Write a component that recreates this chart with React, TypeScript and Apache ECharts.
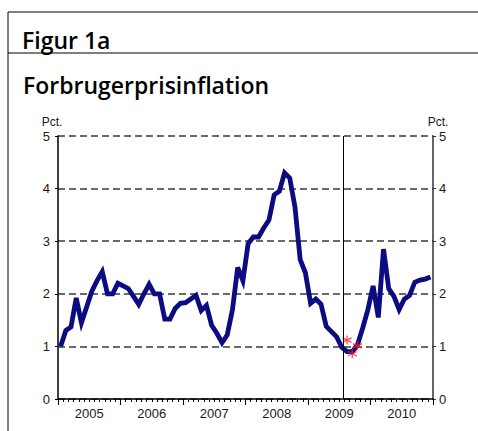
import React, { useEffect, useRef } from "react";
import * as echarts from "echarts";

// Monthly consumer price inflation (Pct.), Jan 2005 – Dec 2010
const years = ["2005", "2006", "2007", "2008", "2009", "2010"];
const cpi2005 = [1.0, 1.3, 1.37, 1.92, 1.45, 1.75, 2.05, 2.25, 2.42, 2.0, 2.0, 2.2];
const cpi2006 = [2.15, 2.1, 1.95, 1.8, 2.0, 2.18, 2.0, 2.0, 1.52, 1.52, 1.72, 1.82];
const cpi2007 = [1.83, 1.9, 1.97, 1.68, 1.78, 1.4, 1.25, 1.07, 1.22, 1.7, 2.5, 2.25];
const cpi2008 = [2.95, 3.08, 3.08, 3.25, 3.4, 3.88, 3.95, 4.3, 4.2, 3.65, 2.65, 2.4];
const cpi2009 = [1.82, 1.9, 1.8, 1.38, 1.28, 1.18, 0.98, 0.9, 0.9, 1.03, 1.35, 1.7];
const cpi2010 = [2.15, 1.55, 2.85, 2.1, 1.95, 1.7, 1.9, 1.97, 2.22, 2.26, 2.28, 2.32];
const cpiValues = [...cpi2005, ...cpi2006, ...cpi2007, ...cpi2008, ...cpi2009, ...cpi2010];

// Red star points (month index from Jan 2005 = 0)
const starMonths = [55, 56, 57];
const starValues = [1.12, 0.86, 1.01];

// Vertical reference line (month position)
const refLineMonth = 54.8;

const yTicks = [0, 1, 2, 3, 4, 5];

const STAR_PATH =
  "path://M0,-10L0,10M-8.66,-5L8.66,5M-8.66,5L8.66,-5";

export default function App() {
  const ref = useRef<HTMLDivElement>(null);
  useEffect(() => {
    if (!ref.current) return;
    const chart = echarts.init(ref.current, null, { renderer: "svg" });
    const lineData = cpiValues.map((v, i) => [i + 0.5, v]);
    const starData = starMonths.map((m, i) => [m + 0.5, starValues[i]]);
    const labelFont = "'Liberation Sans', Arial, sans-serif";
    const titleFont = "'Open Sans', 'Noto Sans', sans-serif";
    chart.setOption({
      animation: false,
      backgroundColor: "#ffffff",
      grid: { left: 58, right: 45, top: 136, bottom: 32, containLabel: false },
      xAxis: [
        {
          type: "value",
          min: 0,
          max: years.length * 12,
          interval: 12,
          position: "bottom",
          axisLine: { show: true, lineStyle: { color: "#000", width: 1.5 } },
          axisTick: { show: true, length: 6, lineStyle: { color: "#000", width: 1 } },
          minorTick: { show: true, splitNumber: 12, length: 3, lineStyle: { color: "#000", width: 1 } },
          axisLabel: { show: false },
          splitLine: { show: false },
        },
        {
          type: "category",
          data: years,
          position: "bottom",
          boundaryGap: true,
          axisLine: { show: false },
          axisTick: { show: false },
          axisLabel: { show: true, margin: 8, fontSize: 13, fontFamily: labelFont, color: "#1a1a1a" },
          splitLine: { show: false },
        },
      ],
      yAxis: [
        {
          type: "value",
          min: yTicks[0],
          max: yTicks[yTicks.length - 1],
          interval: 1,
          position: "left",
          axisLine: { show: true, lineStyle: { color: "#000", width: 1.5 } },
          axisTick: { show: true, length: 3, lineStyle: { color: "#000", width: 1 } },
          axisLabel: { margin: 8, fontSize: 13, fontFamily: labelFont, color: "#1a1a1a" },
          splitLine: { show: true, lineStyle: { color: "#3a3a3a", width: 1.5, type: [7, 4] } },
        },
        {
          type: "value",
          min: yTicks[0],
          max: yTicks[yTicks.length - 1],
          interval: 1,
          position: "right",
          axisLine: { show: true, lineStyle: { color: "#333", width: 1.5 } },
          axisTick: { show: true, length: 3, lineStyle: { color: "#333", width: 1 } },
          axisLabel: { margin: 6, fontSize: 13, fontFamily: labelFont, color: "#1a1a1a" },
          splitLine: { show: false },
        },
      ],
      series: [
        {
          type: "line",
          xAxisIndex: 0,
          yAxisIndex: 0,
          data: lineData,
          showSymbol: false,
          symbol: "none",
          lineStyle: { color: "#0b0b82", width: 4.8, join: "miter" },
          markLine: {
            silent: true,
            symbol: "none",
            label: { show: false },
            lineStyle: { color: "#000", width: 1, type: "solid" },
            data: [{ xAxis: refLineMonth }],
          },
          z: 3,
        },
        {
          type: "scatter",
          xAxisIndex: 0,
          yAxisIndex: 0,
          data: starData,
          symbol: STAR_PATH,
          symbolSize: 9,
          itemStyle: { color: "none", borderColor: "#ff1a1a", borderWidth: 1.3 },
          z: 4,
        },
      ],
      graphic: [
        { type: "line", shape: { x1: 8, y1: 12, x2: 478, y2: 12 }, style: { stroke: "#000", lineWidth: 1 } },
        { type: "line", shape: { x1: 8, y1: 12, x2: 8, y2: 431 }, style: { stroke: "#000", lineWidth: 1 } },
        { type: "line", shape: { x1: 8, y1: 53, x2: 478, y2: 53 }, style: { stroke: "#000", lineWidth: 1 } },
        {
          type: "text",
          x: 22,
          y: 40,
          style: { text: "Figur 1a", fontSize: 23, fontWeight: 600, fontFamily: titleFont, fill: "#000", align: "left", verticalAlign: "middle" },
        },
        {
          type: "text",
          x: 23,
          y: 85,
          style: { text: "Forbrugerprisinflation", fontSize: 23, fontWeight: 600, fontFamily: titleFont, fill: "#000", align: "left", verticalAlign: "middle" },
        },
        {
          type: "text",
          x: 52,
          y: 122,
          style: { text: "Pct.", fontSize: 12, fontFamily: labelFont, fill: "#1a1a1a", align: "center", verticalAlign: "middle" },
        },
        {
          type: "text",
          x: 438,
          y: 122,
          style: { text: "Pct.", fontSize: 12, fontFamily: labelFont, fill: "#1a1a1a", align: "center", verticalAlign: "middle" },
        },
      ],
    });
    return () => chart.dispose();
  }, []);
  return (
    <div
      ref={ref}
      style={{ position: "fixed", left: 0, top: 0, width: 478, height: 431 }}
    />
  );
}
